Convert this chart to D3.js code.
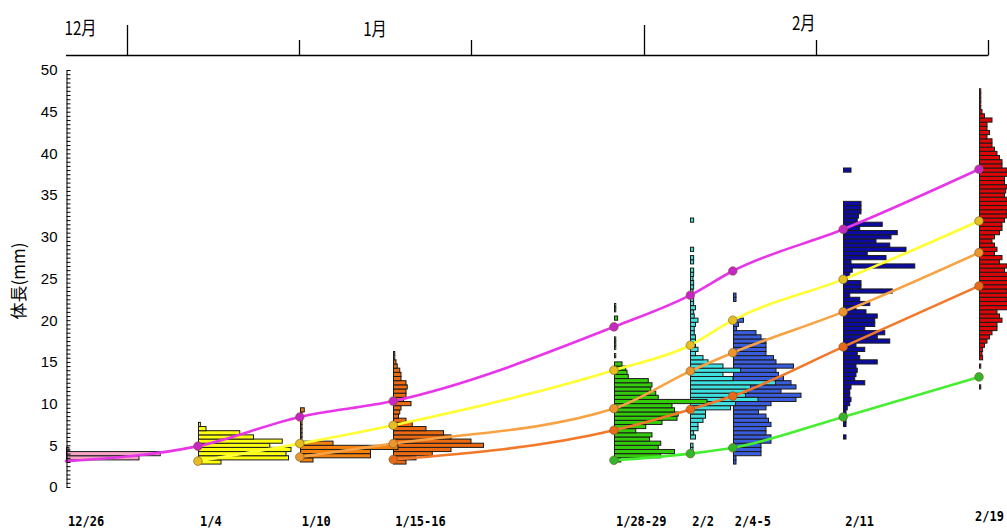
<!DOCTYPE html>
<html><head><meta charset="utf-8">
<script src="https://cdn.jsdelivr.net/npm/d3@7"></script>
<style>body{margin:0;background:#fff}svg{display:block}</style>
</head><body>
<svg id="c" width="1007" height="532"></svg>
<script>
// ---------------- data ----------------
// sampling dates (label, days since Jan 1)
const sampleLabels = ["12/26","1/4","1/10","1/15-16","1/28-29","2/2","2/4-5","2/11","2/19"];
const sampleDays   = [-6, 3, 9, 14.5, 27.5, 32, 34.5, 41, 49];
// centre (mm) of lowest 0.5 mm size class of each histogram
const binStart = [3.5, 3.0, 3.25, 3.0, 3.25, 4.5, 3.0, 6.0, 12.0];
// frequency (%) per 0.5 mm class, from binStart upward
const freq1226 = [5.8, 7.5, 0.2];
const freq0104 = [1.8, 7.2, 7.0, 7.4, 5.7, 6.7, 4.4, 3.3, 0.6, 0.15];
const freq0110 = [1.0, 5.6, 5.6, 7.8, 2.6, 0.12, 0.12, 0.12, 0.12, 0.12, 0.12, 0.12, 0.3];
const freq0115 = [1.0, 1.8, 3.1, 4.6, 7.2, 6.2, 4.6, 4.0, 2.6, 1.5, 1.0, 0.4, 0.5, 0.6, 1.4, 0.8,
                  1.0, 1.0, 1.1, 1.0, 0.6, 0.6, 0.5, 0.3, 0.2, 0.1, 0.1];
const freq0128 = [0.5, 3.7, 4.8, 3.5, 3.7, 2.8, 3.0, 1.7, 2.5, 3.8, 5.0, 5.1, 4.8, 4.6, 7.4, 3.5,
                  3.3, 2.9, 3.0, 2.7, 1.1, 1.0, 0.9, 0.6, 0, 0.1, 0, 0.1, 0.1, 0.1, 0, 0, 0, 0,
                  0.25, 0, 0.1, 0.1];
const freq0202 = [0.2, 0.2, 0, 0.4, 0.25, 0.6, 0.6, 1.0, 1.2, 1.2, 3.2, 3.6, 5.4, 4.4, 4.6, 4.8,
                  6.8, 3.4, 2.6, 4.0, 2.6, 1.4, 1.0, 0.4, 0.6, 0.4, 0.4, 0.4, 0.3, 0.3, 0.4, 0.6,
                  0.3, 0.25, 0.4, 0.25, 0.25, 0.2, 0.2, 0.25, 0.25, 0.2, 0.25, 0.25, 0, 0.25, 0.25,
                  0, 0.25, 0, 0, 0, 0, 0, 0, 0.25];
const freq0204 = [0.2, 0.2, 2.2, 2.2, 2.2, 3.0, 3.0, 2.6, 2.6, 3.0, 2.8, 2.6, 2.0, 2.6, 3.0, 5.0,
                  5.4, 3.8, 5.0, 4.6, 4.0, 3.6, 3.4, 4.8, 3.4, 3.2, 2.6, 2.6, 2.6, 2.6, 2.2, 1.8,
                  0.25, 0.4, 0.8, 0, 0, 0, 0, 0.2, 0.2];
const freq0211 = [0.2, 0, 0, 0.2, 0.2, 0.2, 0.2, 0.3, 0.5, 0.6, 0.5, 0.5, 0.6, 1.7, 0.9, 1.0,
                  1.1, 1.0, 2.7, 1.3, 1.1, 1.7, 1.0, 3.7, 2.7, 3.3, 1.7, 2.5, 2.5, 2.7, 1.8, 1.0,
                  2.1, 1.3, 0.5, 3.9, 1.4, 1.4, 0.3, 0.5, 0.7, 5.7, 0.6, 3.4, 1.9, 5.0, 3.7, 2.6,
                  3.8, 4.3, 1.3, 3.1, 1.1, 1.2, 1.4, 1.4, 1.4, 0, 0, 0, 0, 0, 0, 0, 0.6];
const freq0219 = [0.1, 0, 0, 0, 0, 0.1, 0, 0.25, 0.2, 0.25, 0.4, 0.6, 0.8, 1.0, 1.4, 1.4,
                  1.8, 1.6, 1.4, 2.3, 2.5, 2.2, 2.4, 2.2, 2.5, 2.6, 2.6, 2.6, 2.0, 2.2, 1.6, 1.8,
                  1.2, 1.4, 1.2, 1.0, 1.2, 1.6, 1.8, 1.8, 2.0, 2.2, 2.2, 2.5, 2.6, 2.2, 2.0, 2.1,
                  2.2, 2.0, 2.0, 2.6, 2.2, 1.8, 1.8, 1.6, 1.4, 1.2, 1.0, 1.0, 0.6, 0.8, 0.6, 0.6,
                  1.0, 0.4, 0.2, 0.1, 0.1, 0.1, 0.1, 0.1];
const freqs = [freq1226, freq0104, freq0110, freq0115, freq0128, freq0202, freq0204, freq0211, freq0219];

// growth-trace body lengths (mm) at each sampling date (null = no value)
const traceMagenta     = [3.1, 4.9, 8.4, 10.3, 19.2, 23.0, 25.9, 30.9, 38.1];
const traceYellow      = [null, 3.1, 5.2, 7.4, 14.0, 17.0, 20.0, 24.9, 31.9];
const traceLightOrange = [null, null, 3.6, 5.2, 9.4, 13.9, 16.1, 21.0, 28.1];
const traceDarkOrange  = [null, null, null, 3.3, 6.8, 9.3, 10.9, 16.8, 24.1];
const traceGreen       = [null, null, null, null, 3.2, 4.0, 4.7, 8.4, 13.2];

// axis texts
const yTickValues = d3.range(0, 50.001, 0.5);
const monthLabels = ["12月", "1月", "2月"];
const junTicks = [0, 1, 2, 3, 4, 5];       // 10-day periods (旬) from Jan 1
const yTitle = "体長(mm)";

// ---------------- styles ----------------
const histColors = ["#f4a3c4", "#ffff10", "#f3820f", "#ec6a12", "#33cc0a", "#3ee0e0", "#3a5ddc", "#0c0ca2", "#dc0606"];
const traces = [
  {vals: traceMagenta,     line: "#e835e8", dot: "#c526c5"},
  {vals: traceYellow,      line: "#ffff33", dot: "#e6bd22"},
  {vals: traceLightOrange, line: "#f7a345", dot: "#ec9430"},
  {vals: traceDarkOrange,  line: "#f2782a", dot: "#e8691a"},
  {vals: traceGreen,       line: "#45ee30", dot: "#33b52c"}
];

// ---------------- layout ----------------
const svg = d3.select("#c");
const plotLeft = 66;
const y = d3.scaleLinear().domain([0, 50]).range([487, 70]);
const xDay = d3.scaleLinear().domain([0, 49]).range([147, 979]);
const xPos = d => Math.max(plotLeft, xDay(d));
const len = d3.scaleLinear().domain([0, 10]).range([0, 125]);
const BIN = 0.5;

// histograms (latest first so earlier ones overlap)
const hists = sampleLabels.map((lab, i) => ({lab, day: sampleDays[i], start: binStart[i], values: freqs[i], color: histColors[i]}));
const gH = svg.append("g");
hists.slice().reverse().forEach(h => {
  const x0 = Math.round(xPos(h.day)) + 0.5;
  const bins = h.values.map((v, j) => ({c: h.start + j * BIN, v})).filter(b => b.v > 0);
  gH.append("g").selectAll("rect").data(bins).join("rect")
    .attr("x", x0)
    .attr("y", b => y(b.c + BIN / 2))
    .attr("width", b => Math.max(1, len(b.v)))
    .attr("height", b => y(b.c - BIN / 2) - y(b.c + BIN / 2))
    .attr("fill", h.color)
    .attr("stroke", "#1b1b1b")
    .attr("stroke-width", 1);
});

// growth traces
const line = d3.line().x(d => xPos(d.day)).y(d => y(d.v)).curve(d3.curveMonotoneX);
const gL = svg.append("g");
traces.forEach(t => {
  const pts = sampleDays.map((d, i) => ({day: d, v: t.vals[i]})).filter(p => p.v != null);
  gL.append("path").datum(pts).attr("d", line)
    .attr("fill", "none").attr("stroke", t.line).attr("stroke-width", 2.6).attr("stroke-linecap", "round");
  t.pts = pts;
});
traces.forEach(t => {
  gL.append("g").selectAll("circle").data(t.pts.filter(p => xDay(p.day) > plotLeft)).join("circle")
    .attr("cx", p => xPos(p.day)).attr("cy", p => y(p.v)).attr("r", 4.3)
    .attr("fill", t.dot).attr("stroke", "#7a5a20").attr("stroke-opacity", 0.6).attr("stroke-width", 1);
});

// y axis
const yAxis = d3.axisLeft(y).tickValues(yTickValues).tickSizeInner(-4).tickSizeOuter(0).tickPadding(9)
  .tickFormat(v => (Math.abs(v % 5) < 1e-9 ? d3.format("d")(v) : ""));
const gy = svg.append("g").attr("transform", `translate(${plotLeft + 0.5},0)`).call(yAxis);
gy.select(".domain").attr("stroke", "#000");
gy.selectAll(".tick line").attr("stroke", "#000");
gy.selectAll("text").attr("font-family", "Liberation Sans, Arial, sans-serif").attr("font-size", 15).attr("fill", "#000");

svg.append("text").attr("transform", "translate(25,281) rotate(-90)")
  .attr("text-anchor", "middle").attr("font-family", "Noto Sans CJK JP, sans-serif").attr("font-size", 17)
  .attr("fill", "#000").text(yTitle);

// top calendar axis (旬)
const xTop = d3.scaleLinear().domain([0, 5]).range([127, 988]);
const topY = 55.5;
svg.append("line").attr("x1", plotLeft).attr("x2", xTop(5)).attr("y1", topY).attr("y2", topY)
  .attr("stroke", "#000").attr("stroke-width", 1.3);
svg.append("g").selectAll("line").data(junTicks).join("line")
  .attr("x1", d => Math.round(xTop(d)) + 0.5).attr("x2", d => Math.round(xTop(d)) + 0.5)
  .attr("y1", topY).attr("y2", d => d % 3 === 0 ? 25 : 40)
  .attr("stroke", "#000").attr("stroke-width", 1.3);
const monthAt = [-0.27, 1.44, 3.93];
const monthBase = [35, 36, 30];
svg.append("g").selectAll("text").data(monthLabels).join("text")
  .attr("transform", (d, i) => `translate(${xTop(monthAt[i])},${monthBase[i]}) scale(0.8,1)`)
  .attr("text-anchor", "middle").attr("font-family", "Noto Sans CJK JP, sans-serif").attr("font-size", 19)
  .attr("fill", "#000").text(d => d);

// bottom date labels (kept inside the page on the right)
const W = 1007;
svg.append("g").selectAll("text").data(hists).join("text")
  .attr("font-family", "DejaVu Sans Mono, monospace").attr("font-weight", "bold").attr("font-size", 12)
  .attr("fill", "#000").text(h => h.lab)
  .each(function(h, i) {
    const w = this.getComputedTextLength();
    const x = Math.min(xPos(h.day) + 2, W - 3 - w);
    const yb = i === hists.length - 1 ? 521 : 526;
    d3.select(this).attr("transform", `translate(${x},${yb}) scale(1,1.2)`);
  });
</script>
</body></html>
